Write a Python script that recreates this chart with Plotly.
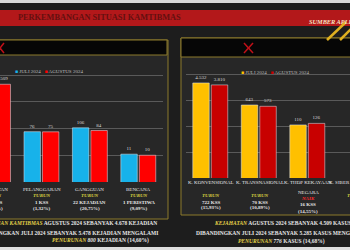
import plotly.graph_objects as go

# ---------------- data ----------------
left_categories = ["KEJAHATAN", "PELANGGARAN", "GANGGUAN", "BENCANA"]
left_juli = [5285, 76, 106, 11]
left_agustus = [4509, 75, 84, 10]
left_status = ["TURUN", "TURUN", "TURUN", "TURUN"]
left_change = ["776 KSS", "1 KSS", "22 KEJADIAN", "1 PERISTIWA"]
left_pct = ["(14,68%)", "(1,32%)", "(20,75%)", "(9,09%)"]

right_categories = ["K. KONVENSIONAL", "K. TRANSNASIONAL", "K. THDP KEKAYAAN<br>NEGARA", "K. SIBER KONTINJENSI"]
right_juli = [4532, 643, 110, 0]
right_agustus = [3810, 573, 126, 0]
right_status = ["TURUN", "TURUN", "NAIK", "TURUN"]
right_change = ["722 KSS", "70 KSS", "16 KSS", ""]
right_pct = ["(15,93%)", "(10,89%)", "(14,55%)", ""]

series_names = ["JULI 2024", "AGUSTUS 2024"]

W, H = 350, 250
def px(x): return x / W
def py(y): return 1 - y / H

def fmt(v):
    return "" if v == 0 else f"{v:,}".replace(",", ".")

BG = "#1d1d1d"
PANEL = "#272727"
GOLD = "#8c7a2c"
BLUE = "#17b2ea"
RED = "#ff0000"
YEL = "#ffc000"
DRED = "#c80000"
SERIF = "Liberation Serif"

fig = go.Figure()
lx = list(range(len(left_categories)))
rx = list(range(len(right_categories)))
vt = dict(size=5, color="#d8d8d8", family=SERIF)
fig.add_bar(x=lx, y=left_juli, marker_color=BLUE, name=series_names[0], text=[fmt(v) for v in left_juli],
            textposition="outside", textfont=vt, cliponaxis=False, xaxis="x", yaxis="y")
fig.add_bar(x=lx, y=left_agustus, marker_color=RED, name=series_names[1], text=[fmt(v) for v in left_agustus],
            textposition="outside", textfont=vt, cliponaxis=False, xaxis="x", yaxis="y")
fig.add_bar(x=rx, y=right_juli, marker_color=YEL, name=series_names[0], text=[fmt(v) for v in right_juli],
            textposition="outside", textfont=vt, cliponaxis=False, xaxis="x2", yaxis="y2")
fig.add_bar(x=rx, y=right_agustus, marker_color=DRED, name=series_names[1], text=[fmt(v) for v in right_agustus],
            textposition="outside", textfont=vt, cliponaxis=False, xaxis="x2", yaxis="y2")

shapes = []
def rect(x0, y0, x1, y1, fill, line=None, lw=1):
    shapes.append(dict(type="rect", xref="paper", yref="paper", x0=px(x0), x1=px(x1), y0=py(y1), y1=py(y0),
                       fillcolor=fill, line=dict(color=line or fill, width=lw if line else 0), layer="below"))
def seg(x0, y0, x1, y1, color, w):
    shapes.append(dict(type="line", xref="paper", yref="paper", x0=px(x0), x1=px(x1), y0=py(y0), y1=py(y1),
                       line=dict(color=color, width=w), layer="above"))

# top / bottom strips
rect(0, 0, 350, 3, "#d9d9d9")
rect(0, 10, 350, 26, "#b3181a")
rect(0, 247, 350, 250, "#dedede")
# panels
rect(-5, 40, 168, 219, PANEL, GOLD)
rect(-5, 40, 167, 55, "#060606", GOLD)
rect(181, 38, 360, 215, PANEL, GOLD)
rect(181, 38, 360, 57, "#060606", GOLD)
# red crosses in headers
seg(-4, 43, 4, 53, "#c01018", 1.5); seg(-4, 53, 4, 43, "#c01018", 1.5)
seg(244, 43, 253, 53, "#c01018", 1.5); seg(244, 53, 253, 43, "#c01018", 1.5)
# yellow diagonal stripes top-right
seg(327, 40, 346, 22, "#e0b020", 2.5)
seg(340, 40, 352, 28, "#e0b020", 2.5)

ann = []
def text(x, y, s, size=5, color="#e6e6e6", anchor="center", family=SERIF):
    ann.append(dict(xref="paper", yref="paper", x=px(x), y=py(y), text=s, showarrow=False,
                    xanchor=anchor, yanchor="middle", font=dict(size=size, color=color, family=family)))

text(16, 18, "<b>PERKEMBANGAN SITUASI KAMTIBMAS</b>", size=8.3, color="#641010", anchor="left")
text(307, 22, "<b><i>SUMBER APLIKASI</i></b>", size=6.3, color="#f3e3c3", anchor="left")

# legends
text(13, 71, f"<span style='color:{BLUE}'>■</span> {series_names[0]}   <span style='color:{RED}'>■</span> {series_names[1]}",
     size=5, color="#bdbdbd", anchor="left")
text(239, 72, f"<span style='color:{YEL}'>■</span> {series_names[0]}   <span style='color:{DRED}'>■</span> {series_names[1]}",
     size=5, color="#bdbdbd", anchor="left")

TY = "#d8d040"
def status_html(s):
    c = "#ff2a2a" if s == "NAIK" else TY
    return f"<b><i><span style='color:{c}'>{s}</span></i></b>"

left_cx = [-7, 41.5, 90, 138.5]
for cx, c, s, ch, p in zip(left_cx, left_categories, left_status, left_change, left_pct):
    text(cx, 189, c)
    text(cx, 195.5, status_html(s))
    text(cx, 202, f"<b>{ch}</b>")
    text(cx, 208, f"<b>{p}</b>")

right_cx = [210.5, 259.5, 308, 356.5]
for cx, c, s, ch, p in zip(right_cx, right_categories, right_status, right_change, right_pct):
    if "<br>" in c:
        a, b = c.split("<br>")
        text(cx, 182, a); text(cx, 192, b)
        text(cx, 198.5, status_html(s))
        text(cx, 204.5, f"<b>{ch}</b>")
        text(cx, 211, f"<b>{p}</b>")
    else:
        text(cx, 182, c)
        text(cx, 195, status_html(s))
        text(cx, 202, f"<b>{ch}</b>")
        text(cx, 207.5, f"<b>{p}</b>")

BS = 5.5
Y = "<b><i><span style='color:#e3d24a'>%s</span></i></b>"
text(159, 223, Y % "GANGGUAN KAMTIBMAS" + "<b> AGUSTUS 2024 SEBANYAK 4.678 KEJADIAN</b>", size=BS, anchor="right")
text(160, 233, "<b>DIBANDINGKAN JULI 2024 SEBANYAK 5.478 KEJADIAN MENGALAMI</b>", size=BS, anchor="right")
text(50, 240, Y % "PENURUNAN" + "<b><i> 800</i> KEJADIAN (14,60%)</b>", size=BS, anchor="left")
text(212, 223, Y % "KEJAHATAN" + "<b> AGUSTUS 2024 SEBANYAK 4.509 KASUS</b>", size=BS, anchor="left")
text(194, 233, "<b>DIBANDINGKAN JULI 2024 SEBANYAK 5.285 KASUS MENGALAMI</b>", size=BS, anchor="left")
text(236, 241, Y % "PENURUNAN" + "<b><i> 776</i> KASUS (14,68%)</b>", size=BS, anchor="left")

axis_common = dict(showticklabels=False, ticks="", zeroline=False, showline=False)
yax = dict(type="log", range=[0, 4.45], showgrid=True, gridcolor="#5a5a5a", gridwidth=1,
           tickvals=[1, 10, 100, 1000, 10000], **axis_common)

fig.update_layout(
    width=W, height=H, margin=dict(l=0, r=0, t=0, b=0),
    paper_bgcolor=BG, plot_bgcolor="rgba(0,0,0,0)",
    showlegend=False, barmode="group", bargap=0.237, bargroupgap=0.11,
    xaxis=dict(domain=[0, px(162.5)], range=[0.144, 3.5], showgrid=False, **axis_common),
    yaxis=dict(domain=[py(182), py(182 - 4.45 * 26.75)], anchor="x", **yax),
    xaxis2=dict(domain=[px(186), 1], range=[-0.5, 2.88], showgrid=False, anchor="y2", **axis_common),
    yaxis2=dict(domain=[py(178), py(178 - 4.45 * 26)], anchor="x2", **yax),
    shapes=shapes, annotations=ann,
)
fig.write_html("out.html")
